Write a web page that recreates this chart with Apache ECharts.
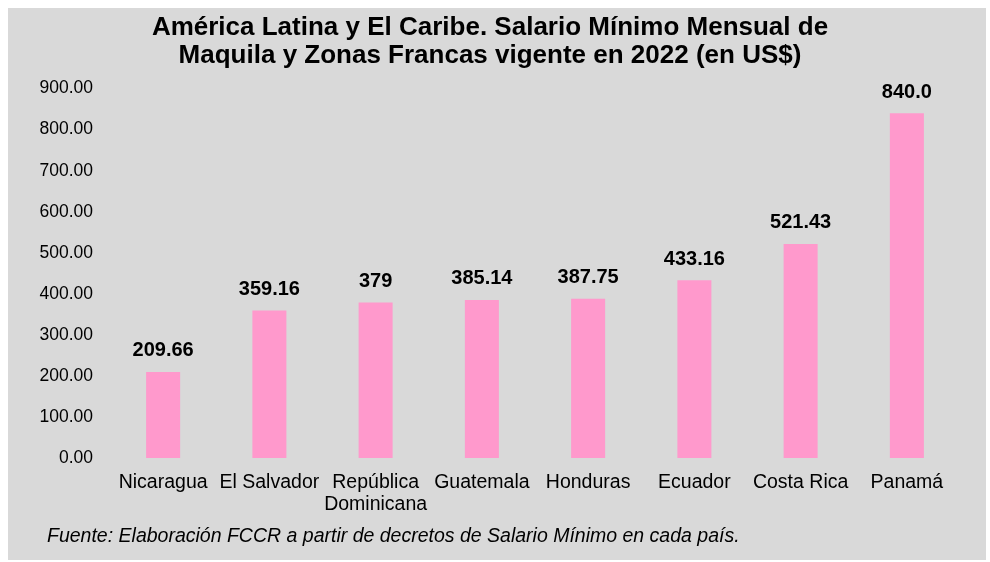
<!DOCTYPE html>
<html>
<head>
<meta charset="utf-8">
<script src="https://cdn.jsdelivr.net/npm/echarts@6/dist/echarts.min.js"></script>
<style>
  html, body { margin: 0; padding: 0; background: #fff; }
  #chart { width: 990px; height: 562px; }
</style>
</head>
<body>
<div id="chart"></div>
<script>
var paises = ['Nicaragua', 'El Salvador', 'República\nDominicana', 'Guatemala', 'Honduras', 'Ecuador', 'Costa Rica', 'Panamá'];
var salarios = [209.66, 359.16, 379, 385.14, 387.75, 433.16, 521.43, 840.0];
var etiquetas = ['209.66', '359.16', '379', '385.14', '387.75', '433.16', '521.43', '840.0'];

var myChart = echarts.init(document.getElementById('chart'));
var option = {
    backgroundColor: '#fff',
    textStyle: {fontFamily: 'Liberation Sans, Arial, sans-serif'},
    graphic: [{
        type: 'rect',
        z: -10,
        shape: {x: 8, y: 8, width: 978, height: 552},
        style: {fill: '#d9d9d9'}
    }],
    title: {
        text: 'América Latina y El Caribe. Salario Mínimo Mensual de\nMaquila y Zonas Francas vigente en 2022 (en US$)',
        left: 485,
        textAlign: 'center',
        top: 9,
        textStyle: {fontSize: 26, fontWeight: 'bold', color: '#000', lineHeight: 28}
    },
    grid: {left: 110, right: 30, top: 88.6, bottom: 104},
    xAxis: {
        type: 'category',
        data: paises,
        axisLine: {show: false},
        axisTick: {show: false},
        axisLabel: {fontSize: 19.5, color: '#000', margin: 14, lineHeight: 22, interval: 0}
    },
    yAxis: {
        type: 'value',
        min: 0,
        max: 900,
        interval: 100,
        splitLine: {show: false},
        axisLine: {show: false},
        axisLabel: {
            fontSize: 17.5, color: '#000', margin: 17,
            formatter: function (v) { return v.toFixed(2); }
        }
    },
    series: [{
        type: 'bar',
        data: salarios,
        barWidth: 34,
        itemStyle: {color: '#ff99cc'},
        label: {
            show: true,
            position: 'top',
            distance: 11,
            fontSize: 20,
            fontWeight: 'bold',
            color: '#000',
            formatter: function (p) { return etiquetas[p.dataIndex]; }
        }
    }]
};
option.graphic.push({
    type: 'text',
    left: 47,
    top: 527,
    style: {
        text: 'Fuente: Elaboración FCCR a partir de decretos de Salario Mínimo en cada país.',
        font: 'italic 19.5px Liberation Sans, Arial, sans-serif',
        fill: '#000'
    }
});
myChart.setOption(option);
</script>
</body>
</html>
